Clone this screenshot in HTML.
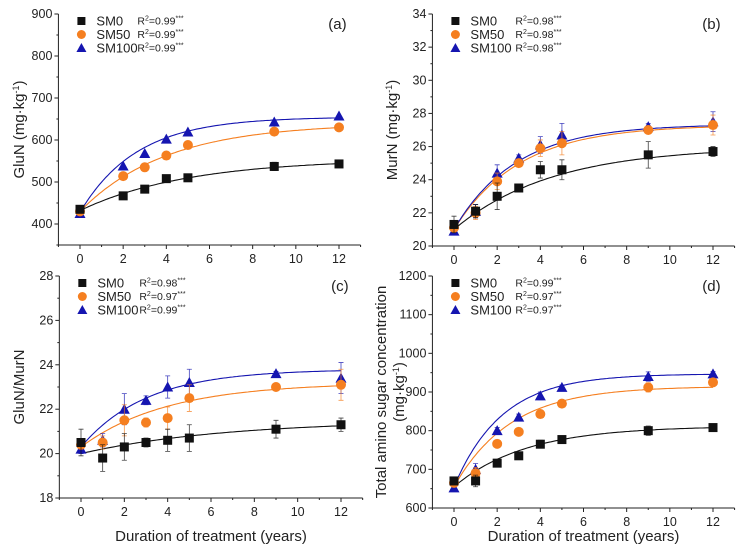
<!DOCTYPE html>
<html><head><meta charset="utf-8"><style>
body{margin:0;background:#fff;}
svg{display:block;font-family:"Liberation Sans",Arial,sans-serif;}
</style></head><body>
<svg id="fig" width="741" height="551" viewBox="0 0 741 551"></svg>
<script>
const years = [0,1,2,3,4,5,9,12];
const seriesNames = ["SM0","SM50","SM100"];
// panel a (no year 1 data)
const aYears = [0,2,3,4,5,9,12];
const aSM0 = [435,467,483,508,510,537,543];
const aSM50 = [430,514,535,563,588,620,630];
const aSM100 = [425,538,568,602,619,643,657];
const aErr0 = [4,5,4,4,4,10,6];
const aFitStart = [432,430,428];
const aFitMax = [555,640,655];
const aFitK = [0.2,0.25,0.38];
const aR2 = ["0.99","0.99","0.99"];
// panel b
const bSM0 = [21.3,22.1,23.0,23.5,24.6,24.6,25.5,25.7];
const bSM50 = [21.1,22.0,23.9,25.0,25.9,26.2,27.0,27.3];
const bSM100 = [20.9,22.1,24.4,25.3,26.1,26.7,27.2,27.5];
const bErr0 = [0.5,0.4,0.8,0.2,0.5,0.6,0.8,0.3];
const bErr100 = [0.2,0.4,0.5,0.2,0.5,0.7,0.2,0.6];
const bFitStart = [21.0,21.0,21.0];
const bFitMax = [26.0,27.3,27.35];
const bFitK = [0.22,0.33,0.35];
const bR2 = ["0.98","0.98","0.98"];
// panel c
const cSM0 = [20.5,19.8,20.3,20.5,20.6,20.7,21.1,21.3];
const cSM50 = [20.4,20.5,21.5,21.4,21.6,22.5,23.0,23.1];
const cSM100 = [20.2,20.6,22.0,22.4,23.0,23.2,23.6,23.4];
const cErr0 = [0.6,0.6,0.6,0.2,0.5,0.6,0.4,0.3];
const cErr100 = [0.2,0.3,0.7,0.2,0.5,0.6,0.1,0.7];
const cFitStart = [20.0,20.3,20.3];
const cFitMax = [21.5,23.2,23.8];
const cFitK = [0.15,0.25,0.33];
const cR2 = ["0.98","0.97","0.99"];
// panel d
const dSM0 = [670,670,716,735,765,777,800,808];
const dSM50 = [665,690,766,797,843,870,912,925];
const dSM100 = [652,700,800,835,890,912,940,947];
const dErr0 = [5,15,8,8,10,6,12,6];
const dFitStart = [655,655,655];
const dFitMax = [812,915,947];
const dFitK = [0.3,0.38,0.45];
const dR2 = ["0.99","0.97","0.97"];

const NS="http://www.w3.org/2000/svg";
const svg=document.getElementById('fig');
const colors=["#111","#f57f20","#1515b0"];
function el(tag,attrs,parent){const e=document.createElementNS(NS,tag);for(const k in attrs)e.setAttribute(k,attrs[k]);(parent||svg).appendChild(e);return e;}

function panel(cfg){
  const g=el('g',{});
  
  
  const X=v=>cfg.x0+(v)*(cfg.x12-cfg.x0)/12;
  const Y=v=>cfg.yb-(v-cfg.ymin)*(cfg.yb-cfg.yt)/(cfg.ymax-cfg.ymin);
  const left=X(-1), right=X(13);
  const ax=el('path',{d:`M${left},${cfg.yt} V${cfg.yb} H${right}`,stroke:'#222','stroke-width':1,fill:'none'},g);
  
  
  for(let v=cfg.ymin;v<=cfg.ymax+1e-9;v+=cfg.ystep/2){
    const major=Math.abs(((v-cfg.ymin-cfg.yoff)/cfg.ystep)-Math.round((v-cfg.ymin-cfg.yoff)/cfg.ystep))<1e-6;
    el('line',{x1:left-(major?4:2),x2:left,y1:Y(v),y2:Y(v),stroke:'#222'},g);
    if(major&&v>=cfg.ymin+cfg.yoff-1e-9){
      const t=el('text',{x:left-6,y:Y(v)+4,'text-anchor':'end','font-size':12.5,fill:'#222'},g);
      t.textContent=String(Math.round(v*100)/100);
      
      
    }
  }
  for(let v=0;v<=13;v++){
    const major=v%2===0;
    el('line',{x1:X(v),x2:X(v),y1:cfg.yb,y2:cfg.yb+(major?4:2),stroke:'#222'},g);
  }
  el('line',{x1:X(-1),x2:X(-1),y1:cfg.yb,y2:cfg.yb+2,stroke:'#222'},g);
  for(let v=0;v<=12;v+=2){
    const t=el('text',{x:X(v),y:cfg.yb+18,'text-anchor':'middle','font-size':12.5,fill:'#222'},g);
    t.textContent=v;
    
    
  }
  const yt=el('text',{transform:`translate(${cfg.ytx},${(cfg.yt+cfg.yb)/2}) rotate(-90)`,'text-anchor':'middle','font-size':15,fill:'#222'},g);
  
  
  cfg.ytitle.forEach((ln,i)=>{const ts=el('tspan',{x:0,dy:i?18:0},yt);ts.innerHTML=ln;});
  if(cfg.xtitle){
    const xt=el('text',{x:(left+right)/2,y:cfg.xty,'text-anchor':'middle','font-size':15,fill:'#222'},g);
    xt.textContent='Duration of treatment  (years)';
    
    
  }
  const lab=el('text',{x:right-14,y:cfg.yt+15,'text-anchor':'end','font-size':15,fill:'#222'},g);
  lab.textContent='('+cfg.id+')';
  
  
  for(let s=0;s<3;s++){
    let d='';
    for(let i=0;i<=120;i++){const t=i/10;const v=cfg.fs[s]+(cfg.fm[s]-cfg.fs[s])*(1-Math.exp(-cfg.fk[s]*t));d+=(i?'L':'M')+X(t).toFixed(1)+','+Y(v).toFixed(1);}
    const p=el('path',{d,stroke:colors[s],'stroke-width':1.1,fill:'none'},g);
    
    
  }
  for(let s=2;s>=0;s--){
    const vals=cfg.data[s];
    vals.forEach((v,i)=>{
      const xx=X(cfg.xs[i]),yy=Y(v);
      const e=cfg.err[s]?cfg.err[s][i]:0;
      if(e){el('path',{d:`M${xx},${Y(v-e)}V${Y(v+e)}M${xx-2.5},${Y(v-e)}h5M${xx-2.5},${Y(v+e)}h5`,stroke:colors[s],'stroke-width':0.8,opacity:0.8},g);}
      let m;
      if(s===0)m=el('rect',{x:xx-4.5,y:yy-4.5,width:9,height:9,fill:colors[0]},g);
      else if(s===1)m=el('circle',{cx:xx,cy:yy,r:5,fill:colors[1]},g);
      else m=el('path',{d:`M${xx},${yy-5.5}L${xx+5.5},${yy+4.5}L${xx-5.5},${yy+4.5}Z`,fill:colors[2]},g);
      
      
    });
  }
  for(let s=0;s<3;s++){
    const ly=cfg.yt+7+s*13.5, lx=left+23;
    let m;
    if(s===0)m=el('rect',{x:lx-4,y:ly-4,width:8,height:8,fill:colors[0]},g);
    else if(s===1)m=el('circle',{cx:lx,cy:ly,r:4.5,fill:colors[1]},g);
    else m=el('path',{d:`M${lx},${ly-5}L${lx+5},${ly+4}L${lx-5},${ly+4}Z`,fill:colors[2]},g);
    
    
    const t=el('text',{x:lx+15,y:ly+4.5,'font-size':13,fill:'#222'},g);
    t.textContent=seriesNames[s];
    
    
    const r=el('text',{x:lx+cfg.r2dx,y:ly+3.5,'font-size':10.5,fill:'#222'},g);
    r.innerHTML=`R<tspan dy="-4" font-size="7">2</tspan><tspan dy="4">=${cfg.r2[s]}</tspan><tspan dy="-4" font-size="7">***</tspan>`;
    
    
  }
}
panel({id:'a',x0:80,x12:339,yt:14,yb:245,ymin:350,ymax:900,ystep:100,yoff:50,xs:aYears,data:[aSM0,aSM50,aSM100],err:[aErr0,null,null],fs:aFitStart,fm:aFitMax,fk:aFitK,r2:aR2,r2dx:56,ytx:24,ytitle:['GluN (mg·kg<tspan dy="-5" font-size="9">-1</tspan><tspan dy="5">)</tspan>']});
panel({id:'b',x0:454,x12:713,yt:14,yb:246,ymin:20,ymax:34,ystep:2,yoff:0,xs:years,data:[bSM0,bSM50,bSM100],err:[bErr0,bErr100,bErr100],fs:bFitStart,fm:bFitMax,fk:bFitK,r2:bR2,r2dx:60,ytx:397,ytitle:['MurN (mg·kg<tspan dy="-5" font-size="9">-1</tspan><tspan dy="5">)</tspan>']});
panel({id:'c',x0:81,x12:341,yt:276,yb:498,ymin:18,ymax:28,ystep:2,yoff:0,xs:years,data:[cSM0,cSM50,cSM100],err:[cErr0,cErr100,cErr100],fs:cFitStart,fm:cFitMax,fk:cFitK,r2:cR2,r2dx:57,ytx:24,xtitle:true,xty:541,ytitle:['GluN/MurN']});
panel({id:'d',x0:454,x12:713,yt:276,yb:508,ymin:600,ymax:1200,ystep:100,yoff:0,xs:years,data:[dSM0,dSM50,dSM100],err:[dErr0,dErr0,dErr0],fs:dFitStart,fm:dFitMax,fk:dFitK,r2:dR2,r2dx:60,ytx:386,xtitle:true,xty:541,ytitle:['Total amino sugar concentration','(mg·kg<tspan dy="-5" font-size="9">-1</tspan><tspan dy="5">)</tspan>']});
</script>
</body></html>
